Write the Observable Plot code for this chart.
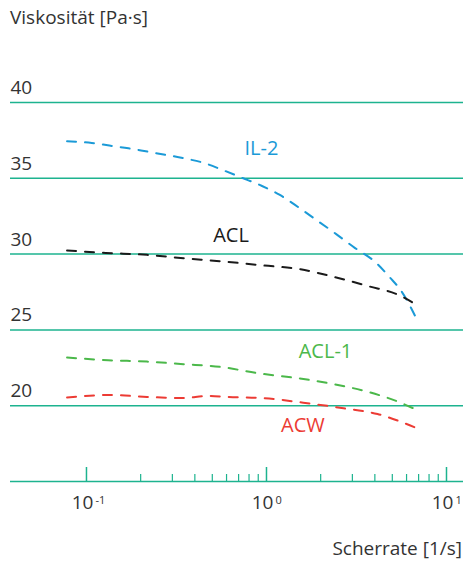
<!DOCTYPE html>
<html>
<head>
<meta charset="utf-8">
<script src="https://cdn.jsdelivr.net/npm/d3@7"></script>
<script src="https://cdn.jsdelivr.net/npm/@observablehq/plot@0.6"></script>
<style>
  html, body { margin: 0; padding: 0; background: #fff; }
  body { width: 465px; height: 563px; position: relative; overflow: hidden; font-family: "Open Sans", sans-serif; color: #333; }
  #chart { position: absolute; left: 0; top: 0; }
  .title { position: absolute; left: 10px; top: 4px; font-size: 19px; line-height: 26px; color: #333; white-space: nowrap; }
  .xlabel { position: absolute; right: 3px; top: 535px; font-size: 19px; line-height: 26px; color: #333; white-space: nowrap; }
</style>
</head>
<body>
<div id="chart"></div>
<div class="title">Viskosität [Pa·s]</div>
<div class="xlabel">Scherrate [1/s]</div>
<script>
// ---- data ----
const yTicks = [20, 25, 30, 35, 40];
const yBase = 15;
const xMajor = [0.1, 1, 10];
const xMajorExp = ["-1", "0", "1"];
const xMinor = [0.2,0.3,0.4,0.5,0.6,0.7,0.8,0.9,2,3,4,5,6,7,8,9];

const il2X = [0.078,0.107,0.134,0.171,0.218,0.278,0.355,0.453,0.57,0.736,0.938,1.18,1.525,1.92,2.45,3.08,3.98,4.88,5.55,7.0];
const il2Y = [37.44,37.33,37.16,36.98,36.76,36.54,36.3,36.0,35.55,35.02,34.51,33.92,33.04,32.2,31.3,30.43,29.52,28.42,27.64,25.45];

const aclX = [0.078,0.128,0.217,0.346,0.577,0.962,1.545,2.36,3.64,5.55,6.9];
const aclY = [30.24,30.08,29.95,29.73,29.51,29.25,29.0,28.5,27.9,27.25,26.6];

const acl1X = [0.078,0.132,0.217,0.346,0.555,0.888,1.48,2.36,3.78,5.55,6.9];
const acl1Y = [23.18,23.0,22.91,22.74,22.56,22.15,21.82,21.42,20.87,20.2,19.7];

const acwX = [0.078,0.134,0.217,0.346,0.469,0.605,0.962,1.6,2.68,4.14,5.55,6.9];
const acwY = [20.54,20.71,20.58,20.5,20.65,20.58,20.5,20.2,19.83,19.45,18.95,18.5];

const seriesNames = ["IL-2", "ACL", "ACL-1", "ACW"];
const seriesColors = ["#1b9ad7", "#1a1a1a", "#4bb84a", "#ec3b34"];
const labelX = [0.938, 0.635, 2.127, 1.595];
const labelY = [36.96, 31.22, 23.59, 18.70];

// ---- build tables ----
const toRows = (xs, ys) => xs.map((x, i) => ({x, y: ys[i]}));
const series = [toRows(il2X, il2Y), toRows(aclX, aclY), toRows(acl1X, acl1Y), toRows(acwX, acwY)];
const labels = seriesNames.map((name, i) => ({name, x: labelX[i], y: labelY[i], color: seriesColors[i]}));

const teal = "#1db38f";
const dash = "9,9";

const plot = Plot.plot({
  width: 465,
  height: 563,
  marginTop: 102,
  marginBottom: 82,
  marginLeft: 10,
  marginRight: 2,
  style: {fontFamily: "Open Sans, sans-serif", fontSize: "19px", color: "#333", background: "transparent"},
  x: {type: "log", domain: [0.03784, 12.43], axis: null},
  y: {domain: [15, 40], axis: null},
  marks: [
    Plot.ruleY(yTicks, {y: d => d, stroke: teal, strokeWidth: 1.5}),
    Plot.ruleY([yBase], {y: d => d, stroke: teal, strokeWidth: 1.5}),
    Plot.ruleX(xMajor, {x: d => d, stroke: teal, strokeWidth: 1.5, insetTop: 365}),
    Plot.ruleX(xMinor, {x: d => d, stroke: teal, strokeWidth: 1.2, insetTop: 372}),
    Plot.text(yTicks, {y: d => d, text: d => String(d), frameAnchor: "left", textAnchor: "start", dy: -14.5, fill: "#333", fontSize: 19}),
    Plot.text(xMajor, {x: d => d, text: () => "10", frameAnchor: "bottom", textAnchor: "end", dx: 7, dy: 27, fill: "#333", fontSize: 19}),
    Plot.text(xMajor, {x: d => d, text: (d, i) => xMajorExp[i], frameAnchor: "bottom", textAnchor: "start", dx: 9, dy: 22, fill: "#333", fontSize: 11}),
    ...series.map((rows, i) => Plot.line(rows, {x: "x", y: "y", stroke: seriesColors[i], strokeWidth: 2, strokeDasharray: dash, curve: "monotone-x"})),
    Plot.text(labels, {x: "x", y: "y", text: "name", fill: "color", fontSize: 20})
  ]
});
document.getElementById("chart").appendChild(plot);
</script>
</body>
</html>
